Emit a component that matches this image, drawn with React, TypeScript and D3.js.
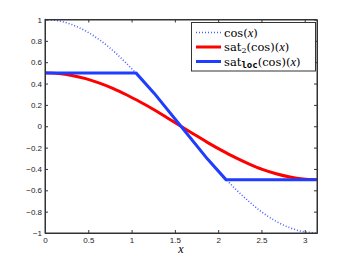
import React, { useEffect, useRef } from "react";
import * as d3 from "d3";

// values
const xSamples = [0, 0.16, 0.31, 0.47, 0.63, 0.79, 0.94, 1.1, 1.26, 1.41, 1.57, 1.73, 1.88, 2.04, 2.2, 2.36, 2.51, 2.67, 2.83, 2.98, 3.14];
const cosValues = [1, 0.987, 0.952, 0.892, 0.809, 0.705, 0.59, 0.454, 0.309, 0.16, 0, -0.159, -0.305, -0.452, -0.588, -0.708, -0.807, -0.891, -0.952, -0.987, -1];
const sat2Values = [0.5, 0.494, 0.476, 0.446, 0.404, 0.353, 0.295, 0.227, 0.155, 0.08, 0, -0.079, -0.153, -0.226, -0.294, -0.354, -0.404, -0.445, -0.476, -0.494, -0.5];
const satLocX = [0, 1.05, 1.26, 1.57, 1.88, 2.09, 3.14];
const satLocValues = [0.5, 0.5, 0.31, 0, -0.31, -0.5, -0.5];

const xTicks = [0, 0.5, 1, 1.5, 2, 2.5, 3];
const yTicks = [-1, -0.8, -0.6, -0.4, -0.2, 0, 0.2, 0.4, 0.6, 0.8, 1];

const serif = "'DejaVu Serif', serif";
const italicSerif = "'Liberation Serif', 'DejaVu Serif', serif";
const tickFont = "'Liberation Sans', Arial, sans-serif";

const App = () => {
  const svgRef = useRef<SVGSVGElement>(null);

  useEffect(() => {
    const svg = d3.select(svgRef.current);
    svg.selectAll("*").remove();

    const left = 45, right = 317, top = 19.5, bottom = 233;
    const x = d3.scaleLinear().domain([0, Math.PI]).range([left, right]);
    const y = d3.scaleLinear().domain([-1, 1]).range([bottom, top]);
    const fmt = (v: number) => (v < 0 ? "\u2212" : "") + String(Math.abs(Math.round(v * 10) / 10));

    const smooth = d3
      .line<[number, number]>()
      .x((d) => x(d[0]))
      .y((d) => y(d[1]))
      .curve(d3.curveCatmullRom);

    const plot = svg.append("g");
    plot
      .append("path")
      .datum(xSamples.map((v, i) => [v, cosValues[i]] as [number, number]))
      .attr("d", smooth)
      .attr("fill", "none")
      .attr("stroke", "#4a5cff")
      .attr("stroke-width", 1.6)
      .attr("stroke-dasharray", "1,2");
    plot
      .append("path")
      .datum(xSamples.map((v, i) => [v, sat2Values[i]] as [number, number]))
      .attr("d", smooth)
      .attr("fill", "none")
      .attr("stroke", "#ff0000")
      .attr("stroke-width", 3);
    plot
      .append("path")
      .datum(satLocX.map((v, i) => [v, satLocValues[i]] as [number, number]))
      .attr("d", d3.line<[number, number]>().x((d) => x(d[0])).y((d) => y(d[1])))
      .attr("fill", "none")
      .attr("stroke", "#1f3dff")
      .attr("stroke-width", 3)
      .attr("stroke-linejoin", "round");

    // axes box with inward ticks
    const axisColor = "#333";
    svg
      .append("g")
      .attr("transform", `translate(0,${bottom})`)
      .call(d3.axisBottom(x).tickValues(xTicks).tickSizeInner(-3).tickSizeOuter(0).tickPadding(4).tickFormat((d) => fmt(+d)))
      .call((g) => g.selectAll("text").style("font-family", tickFont).attr("font-size", 8).attr("fill", "#222"));
    svg
      .append("g")
      .attr("transform", `translate(0,${top})`)
      .call(d3.axisTop(x).tickValues(xTicks).tickSizeInner(-3).tickSizeOuter(0).tickFormat(() => ""));
    svg
      .append("g")
      .attr("transform", `translate(${left},0)`)
      .call(d3.axisLeft(y).tickValues(yTicks).tickSizeInner(-3).tickSizeOuter(0).tickPadding(3).tickFormat((d) => fmt(+d)))
      .call((g) => g.selectAll("text").style("font-family", tickFont).attr("font-size", 8).attr("fill", "#222"));
    svg
      .append("g")
      .attr("transform", `translate(${right},0)`)
      .call(d3.axisRight(y).tickValues(yTicks).tickSizeInner(-3).tickSizeOuter(0).tickFormat(() => ""));
    svg.selectAll(".domain").attr("stroke", axisColor);
    svg.selectAll(".tick line").attr("stroke", axisColor);
    svg
      .append("rect")
      .attr("x", left)
      .attr("y", top)
      .attr("width", right - left)
      .attr("height", bottom - top)
      .attr("fill", "none")
      .attr("stroke", axisColor)
      .attr("stroke-width", 1);

    svg
      .append("text")
      .attr("x", x(1.57))
      .attr("y", 253)
      .attr("text-anchor", "middle")
      .style("font-family", italicSerif)
      .style("font-style", "italic")
      .attr("font-size", 12)
      .text("x");

    // legend
    const legend = svg.append("g");
    legend
      .append("rect")
      .attr("x", 191.5)
      .attr("y", 22.5)
      .attr("width", 124)
      .attr("height", 48.5)
      .attr("fill", "#fff")
      .attr("stroke", "#333");
    const rows = [
      { color: "#4a5cff", width: 1.6, dash: "1,2", cy: 32.5 },
      { color: "#ff0000", width: 3, dash: null, cy: 47 },
      { color: "#1f3dff", width: 3, dash: null, cy: 61.5 },
    ];
    rows.forEach((r) => {
      legend
        .append("line")
        .attr("x1", 196)
        .attr("x2", 221)
        .attr("y1", r.cy)
        .attr("y2", r.cy)
        .attr("stroke", r.color)
        .attr("stroke-width", r.width)
        .attr("stroke-dasharray", r.dash);
    });
    const addText = (yPos: number) =>
      legend.append("text").attr("x", 224).attr("y", yPos).style("font-family", serif).attr("font-size", 11.5);
    const italicX = (t: any) =>
      t.append("tspan").style("font-family", italicSerif).style("font-style", "italic").attr("font-size", 12.5).text("x");
    const t1 = addText(36.5);
    t1.append("tspan").text("cos(");
    italicX(t1);
    t1.append("tspan").text(")");
    const t2 = addText(51);
    t2.append("tspan").text("sat");
    t2.append("tspan").attr("font-size", 8).attr("dy", 2).text("2");
    t2.append("tspan").attr("dy", -2).text("(cos)(");
    italicX(t2);
    t2.append("tspan").text(")");
    const t3 = addText(65.5);
    t3.append("tspan").text("sat");
    t3
      .append("tspan")
      .style("font-family", "'DejaVu Sans Mono', monospace")
      .attr("font-weight", "bold")
      .attr("font-size", 9)
      .attr("dy", 2.5)
      .text("loc");
    t3.append("tspan").attr("dy", -2.5).text("(cos)(");
    italicX(t3);
    t3.append("tspan").text(")");
  }, []);

  return (
    <svg
      ref={svgRef}
      width={350}
      height={263}
      style={{ position: "absolute", left: 0, top: 0, background: "#fff" }}
    ></svg>
  );
};

export default App;
